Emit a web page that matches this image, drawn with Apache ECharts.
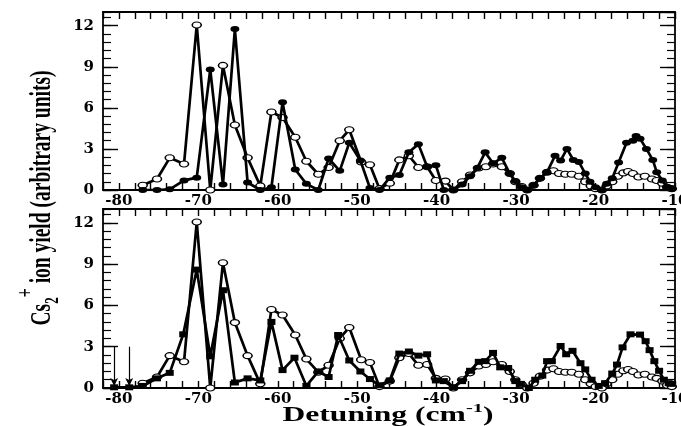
<!DOCTYPE html>
<html>
<head>
<meta charset="utf-8">
<script src="https://cdn.jsdelivr.net/npm/echarts@6/dist/echarts.min.js"></script>
<style>
  html, body { margin: 0; padding: 0; background: #fff; }
  #chart { width: 681px; height: 426px; }
</style>
</head>
<body>
<div id="chart"></div>
<script>
// Reference spectrum (open circles), shown in both panels
const openX = [-77.0,-75.2,-73.6,-71.8,-70.2,-68.5,-66.9,-65.4,-63.8,-62.2,-60.8,-59.4,-57.8,-56.4,-54.9,-53.6,-52.2,-51.0,-49.5,-48.4,-47.2,-45.9,-44.7,-43.5,-42.3,-41.2,-40.1,-38.9,-37.9,-36.8,-35.8,-34.7,-33.8,-32.9,-31.8,-30.8,-30.1,-29.3,-28.6,-27.8,-27.0,-26.1,-25.3,-24.6,-23.8,-23.0,-22.1,-21.3,-20.6,-20.0,-19.2,-18.6,-17.9,-17.2,-16.5,-15.9,-15.3,-14.6,-13.8,-12.9,-12.3,-11.6,-11.0,-10.4];
const openY = [0.35,0.8,2.35,1.9,12.05,0,9.1,4.75,2.35,0.3,5.7,5.3,3.85,2.1,1.15,1.65,3.6,4.4,2.05,1.85,0.1,0.5,2.2,2.5,1.65,1.7,0.7,0.65,0,0.6,1.1,1.6,1.7,1.9,1.7,1.2,0.6,0.25,0,0.35,0.85,1.3,1.4,1.2,1.15,1.15,1.0,0.6,0.3,0.1,0,0.3,0.6,1.0,1.25,1.35,1.2,0.95,1.0,0.8,0.7,0.5,0.2,0.1];

// Upper panel: filled circles
const circleX = [-77.0,-75.2,-73.6,-71.8,-70.2,-68.5,-66.9,-65.4,-63.8,-62.2,-60.8,-59.4,-57.8,-56.4,-54.9,-53.6,-52.2,-51.0,-49.6,-48.4,-47.2,-45.9,-44.7,-43.5,-42.3,-41.2,-40.1,-39.1,-37.9,-36.8,-35.8,-34.9,-33.9,-32.9,-31.8,-30.8,-30.1,-29.3,-28.6,-27.8,-27.0,-26.1,-25.1,-24.4,-23.6,-22.8,-22.1,-21.3,-20.7,-20.0,-19.2,-18.6,-17.9,-17.1,-16.1,-15.3,-14.9,-14.4,-13.6,-12.8,-12.3,-11.6,-11.0,-10.4];
const circleY = [0,0,0.05,0.7,0.9,8.8,0.4,11.75,0.55,0,0.2,6.4,1.5,0.45,0,2.3,1.4,3.45,2.15,0.15,0,0.9,1.1,2.75,3.35,1.7,1.8,0,0,0.4,1.0,1.6,2.75,1.95,2.35,1.2,0.65,0.2,0,0.35,0.85,1.3,2.5,2.15,3.0,2.2,2.05,1.2,0.6,0.2,0,0.45,0.85,2.0,3.45,3.6,3.95,3.75,3.0,2.2,1.3,0.7,0.2,0.1];

// Lower panel: filled squares
const squareX = [-80.6,-78.7,-77.0,-75.2,-73.6,-71.9,-70.2,-68.5,-66.9,-65.4,-63.8,-62.2,-60.8,-59.4,-57.9,-56.4,-54.9,-53.6,-52.4,-51.0,-49.6,-48.4,-47.2,-45.9,-44.7,-43.5,-42.3,-41.2,-40.1,-39.1,-37.9,-36.8,-35.8,-34.7,-33.9,-32.9,-32.0,-31.0,-30.1,-29.4,-28.4,-27.6,-26.7,-26.1,-25.5,-24.4,-23.7,-22.9,-21.9,-21.3,-20.5,-19.6,-18.8,-17.9,-17.3,-16.6,-15.6,-14.4,-13.7,-13.2,-12.6,-12.0,-11.4,-10.8,-10.4];
const squareY = [0.05,0.05,0.15,0.7,1.1,3.9,8.6,2.3,7.1,0.4,0.7,0.55,4.8,1.3,2.2,0.15,1.2,0.8,3.85,2.0,1.2,0.65,0.2,0.55,2.5,2.65,2.35,2.45,0.55,0.5,0.05,0.5,1.25,1.9,1.95,2.55,1.5,1.45,0.5,0.3,0,0.6,0.9,1.95,1.95,3.05,2.45,2.7,1.8,1.35,0.6,0.15,0.35,1.05,1.7,2.95,3.9,3.88,3.4,2.75,1.95,1.25,0.6,0.35,0.3];

// Arrows marking two lines in the lower panel
const arrowX = [-80.6, -78.7];
const arrowFrom = 3.0;
const arrowTo = 0.15;

const zip = (xs, ys) => xs.map((x, i) => [x, ys[i]]);

const BLACK = '#000';
const tickFont = { fontFamily: 'DejaVu Serif', fontWeight: 'bold', fontSize: 15, color: BLACK };
const serif = 'Liberation Serif';

const grids = [
  { left: 103, right: 6, top: 12, height: 178 },
  { left: 103, right: 6, top: 209, height: 179 }
];

function xAxesFor(g) {
  const base = {
    type: 'value', gridIndex: g, min: -82, max: -10, interval: 2,
    axisLine: { show: true, onZero: false, lineStyle: { color: BLACK, width: 1.8 } },
    axisTick: { show: true, inside: true, length: 7, lineStyle: { color: BLACK, width: 1.4 } },
    splitLine: { show: false }
  };
  return [
    Object.assign({}, base, {
      position: 'bottom',
      axisLabel: Object.assign({}, tickFont, {
        margin: 4,
        formatter: v => (Math.round(v) % 10 === 0 ? String(Math.round(v)) : '')
      })
    }),
    Object.assign({}, base, { position: 'top', axisLabel: { show: false } })
  ];
}

function yAxesFor(g) {
  const common = {
    type: 'value', gridIndex: g, min: 0, max: 13,
    splitLine: { show: false }
  };
  const major = (pos, labels) => Object.assign({}, common, {
    position: pos, interval: 3,
    axisLine: { show: true, onZero: false, lineStyle: { color: BLACK, width: 1.8 } },
    axisTick: { show: true, inside: true, length: 15, lineStyle: { color: BLACK, width: 1.4 } },
    axisLabel: labels
      ? Object.assign({}, tickFont, { margin: 9, showMaxLabel: false })
      : { show: false }
  });
  const minor = pos => Object.assign({}, common, {
    position: pos, interval: 0.6,
    axisLine: { show: false },
    axisTick: { show: true, inside: true, length: 8, lineStyle: { color: BLACK, width: 1.2 } },
    axisLabel: { show: false }
  });
  return [major('left', true), minor('left'), major('right', false), minor('right')];
}

const lineBase = {
  type: 'line', animation: false, showSymbol: true, showAllSymbol: true,
  lineStyle: { color: BLACK, width: 2.7 }, emphasis: { disabled: true }
};

const openSeries = (xi, yi) => Object.assign({}, lineBase, {
  xAxisIndex: xi, yAxisIndex: yi, z: 2,
  data: zip(openX, openY),
  symbol: 'circle', symbolSize: [9, 6],
  itemStyle: { color: '#fff', borderColor: BLACK, borderWidth: 1.3 }
});

const option = {
  backgroundColor: '#fff',
  animation: false,
  grid: grids.map(g => Object.assign({ containLabel: false, outerBoundsMode: 'none' }, g)),
  xAxis: [].concat(xAxesFor(0), xAxesFor(1)),
  yAxis: [].concat(yAxesFor(0), yAxesFor(1)),
  series: [
    openSeries(0, 0),
    Object.assign({}, lineBase, {
      xAxisIndex: 0, yAxisIndex: 0, z: 3,
      data: zip(circleX, circleY),
      symbol: 'circle', symbolSize: [9, 6],
      itemStyle: { color: BLACK }
    }),
    openSeries(2, 4),
    Object.assign({}, lineBase, {
      xAxisIndex: 2, yAxisIndex: 4, z: 3,
      data: zip(squareX, squareY),
      symbol: 'rect', symbolSize: [8, 6],
      itemStyle: { color: BLACK },
      markLine: {
        silent: true, animation: false,
        symbol: ['none', 'arrow'], symbolSize: [6, 8],
        label: { show: false },
        lineStyle: { color: BLACK, width: 1.2, type: 'solid' },
        emphasis: { disabled: true },
        data: arrowX.map(x => [{ coord: [x, arrowFrom] }, { coord: [x, arrowTo] }])
      }
    })
  ],
  graphic: [
    {
      type: 'text', x: 388, y: 414, scaleX: 1.58, silent: true,
      style: {
        text: '{t|Detuning (cm}{s|-1}{t|)}',
        align: 'center', verticalAlign: 'middle',
        rich: {
          t: { fontFamily: serif, fontWeight: 'bold', fontSize: 20, fill: BLACK, lineHeight: 24, verticalAlign: 'bottom' },
          s: { fontFamily: serif, fontWeight: 'bold', fontSize: 13, fill: BLACK, lineHeight: 24, verticalAlign: 'top' }
        }
      }
    },
    {
      type: 'text', x: 42, y: 198, rotation: Math.PI / 2, scaleY: 1.5, silent: true,
      style: {
        text: '{t|Cs}{b|2}{p|+}{t| ion yield (arbitrary units)}',
        align: 'center', verticalAlign: 'middle',
        rich: {
          t: { fontFamily: serif, fontWeight: 'bold', fontSize: 19.5, fill: BLACK, lineHeight: 38, verticalAlign: 'middle' },
          b: { fontFamily: serif, fontWeight: 'bold', fontSize: 13, fill: BLACK, lineHeight: 30, verticalAlign: 'middle', padding: [14, 0, 0, 0] },
          p: { fontFamily: serif, fontWeight: 'bold', fontSize: 16, fill: BLACK, lineHeight: 38, verticalAlign: 'top' }
        }
      }
    }
  ]
};

const chart = echarts.init(document.getElementById('chart'), null, { renderer: 'canvas' });
chart.setOption(option);
</script>
</body>
</html>
